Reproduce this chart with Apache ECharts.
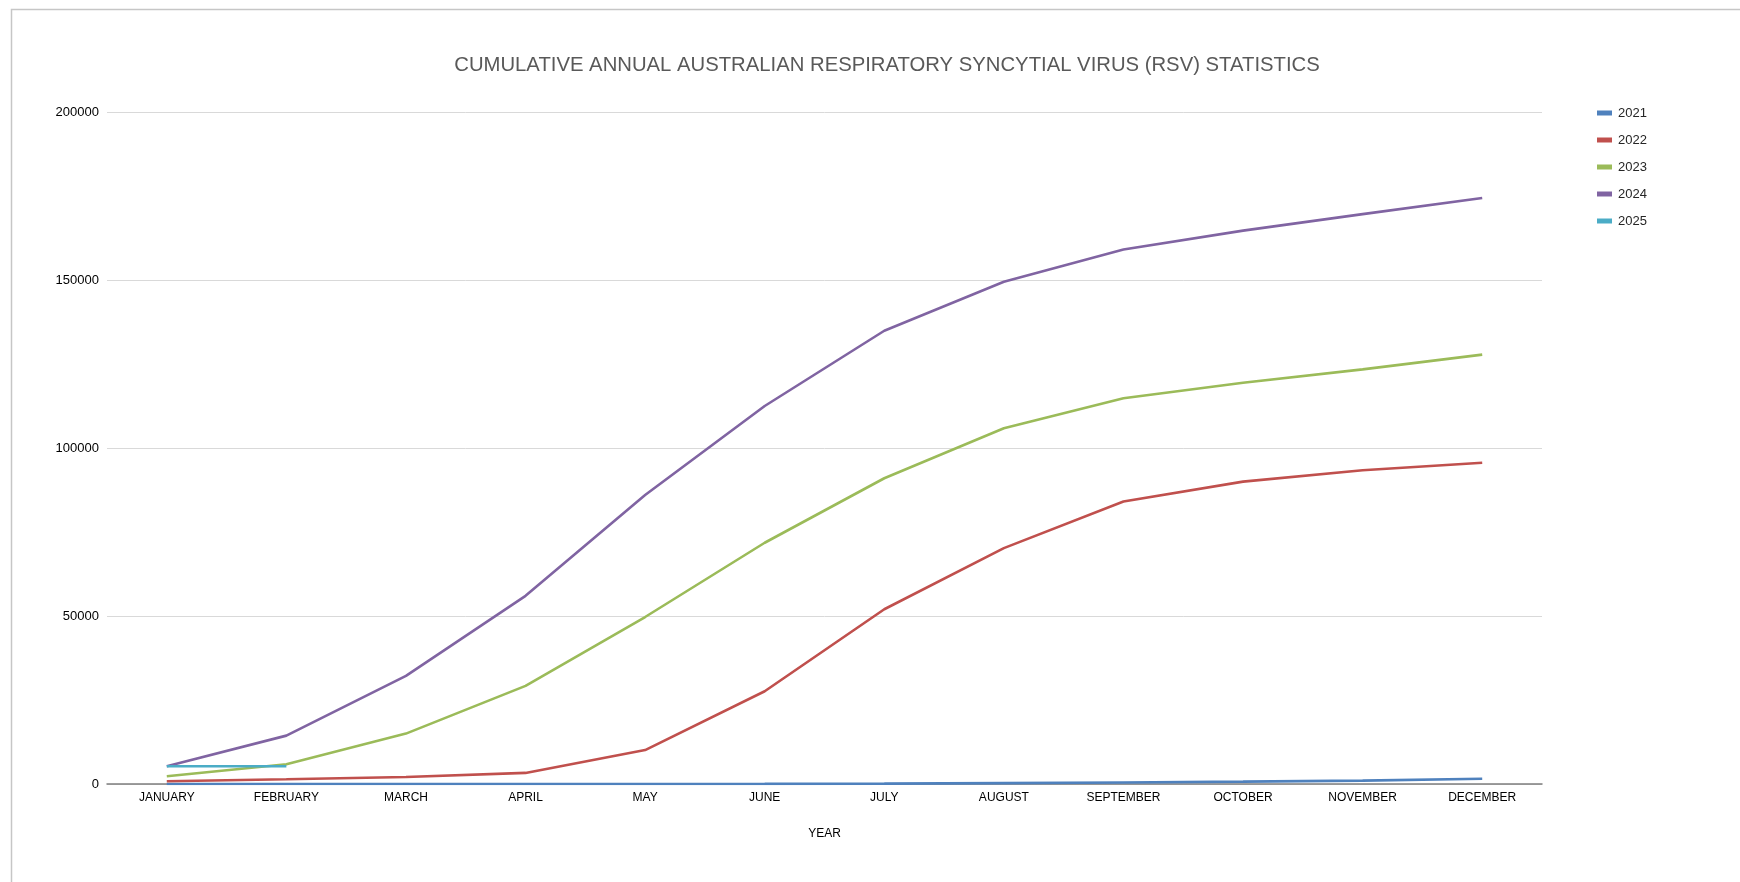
<!DOCTYPE html>
<html>
<head>
<meta charset="utf-8">
<script src="https://cdn.jsdelivr.net/npm/echarts@6/dist/echarts.min.js"></script>
<style>
  html, body { margin: 0; padding: 0; background: #fff; }
  #chart { width: 1740px; height: 882px; }
</style>
</head>
<body>
<div id="chart"></div>
<script>
const months = ['JANUARY', 'FEBRUARY', 'MARCH', 'APRIL', 'MAY', 'JUNE', 'JULY', 'AUGUST', 'SEPTEMBER', 'OCTOBER', 'NOVEMBER', 'DECEMBER'];
const years = ['2021', '2022', '2023', '2024', '2025'];

// cumulative case counts
const y2021 = [0, 0, 0, 10, 20, 40, 100, 250, 450, 700, 1000, 1550];
const y2022 = [800, 1400, 2100, 3300, 10100, 27600, 52000, 70200, 84100, 90000, 93400, 95600];
const y2023 = [2300, 5900, 15000, 29200, 49700, 71800, 91000, 105900, 114800, 119400, 123400, 127800];
const y2024 = [5300, 14400, 32200, 56000, 86000, 112500, 134900, 149500, 159100, 164700, 169600, 174400];
const y2025 = [5300, 5300, null, null, null, null, null, null, null, null, null, null];

const yTicks = [0, 50000, 100000, 150000, 200000];
const colors = ['#4F81BD', '#C0504D', '#9BBB59', '#8064A2', '#4BACC6'];

const seriesData = [y2021, y2022, y2023, y2024, y2025];

const chart = echarts.init(document.getElementById('chart'));

const option = {
  animation: false,
  color: colors,
  textStyle: { fontFamily: 'Liberation Sans' },
  graphic: [{
    type: 'rect',
    shape: { x: 11.5, y: 9.5, width: 1760, height: 900 },
    style: { fill: 'none', stroke: '#c6c6c6', lineWidth: 1.5 },
    silent: true
  }],
  title: {
    text: 'CUMULATIVE ANNUAL AUSTRALIAN RESPIRATORY SYNCYTIAL VIRUS (RSV) STATISTICS',
    left: 882,
    top: 50,
    textAlign: 'center',
    textStyle: {
      fontFamily: 'Liberation Sans',
      fontSize: 20.3,
      fontWeight: 'normal',
      color: '#595959'
    }
  },
  legend: {
    orient: 'vertical',
    left: 1592,
    top: 101.5,
    itemGap: 14,
    itemWidth: 15,
    itemHeight: 14,
    data: years.map(function (y) {
      return { name: y, icon: 'path://M0,4.5 L15,4.5 L15,9.5 L0,9.5 Z' };
    }),
    textStyle: { fontSize: 13, color: '#262626', padding: [0, 0, 0, 1] }
  },
  grid: {
    left: 107,
    right: 198,
    top: 112,
    bottom: 98,
    outerBoundsMode: 'none'
  },
  xAxis: {
    type: 'category',
    data: months,
    boundaryGap: true,
    name: 'YEAR',
    nameLocation: 'middle',
    nameGap: 44,
    nameTextStyle: { fontSize: 12, color: '#000' },
    axisLine: { lineStyle: { color: '#7f7f7f', width: 1.5 } },
    axisTick: { show: false },
    axisLabel: { fontSize: 12, color: '#000', margin: 8, interval: 0 }
  },
  yAxis: {
    type: 'value',
    min: yTicks[0],
    max: yTicks[yTicks.length - 1],
    interval: yTicks[1] - yTicks[0],
    axisLine: { show: false },
    axisTick: { show: false },
    axisLabel: {
      fontSize: 13,
      color: '#000',
      margin: 8,
      formatter: function (v) { return String(v); }
    },
    splitLine: { lineStyle: { color: '#d9d9d9', width: 1 } }
  },
  series: years.map(function (y, i) {
    return {
      name: y,
      type: 'line',
      data: seriesData[i],
      symbol: 'none',
      connectNulls: false,
      lineStyle: { width: 2.6, color: colors[i] }
    };
  })
};

chart.setOption(option);
</script>
</body>
</html>
